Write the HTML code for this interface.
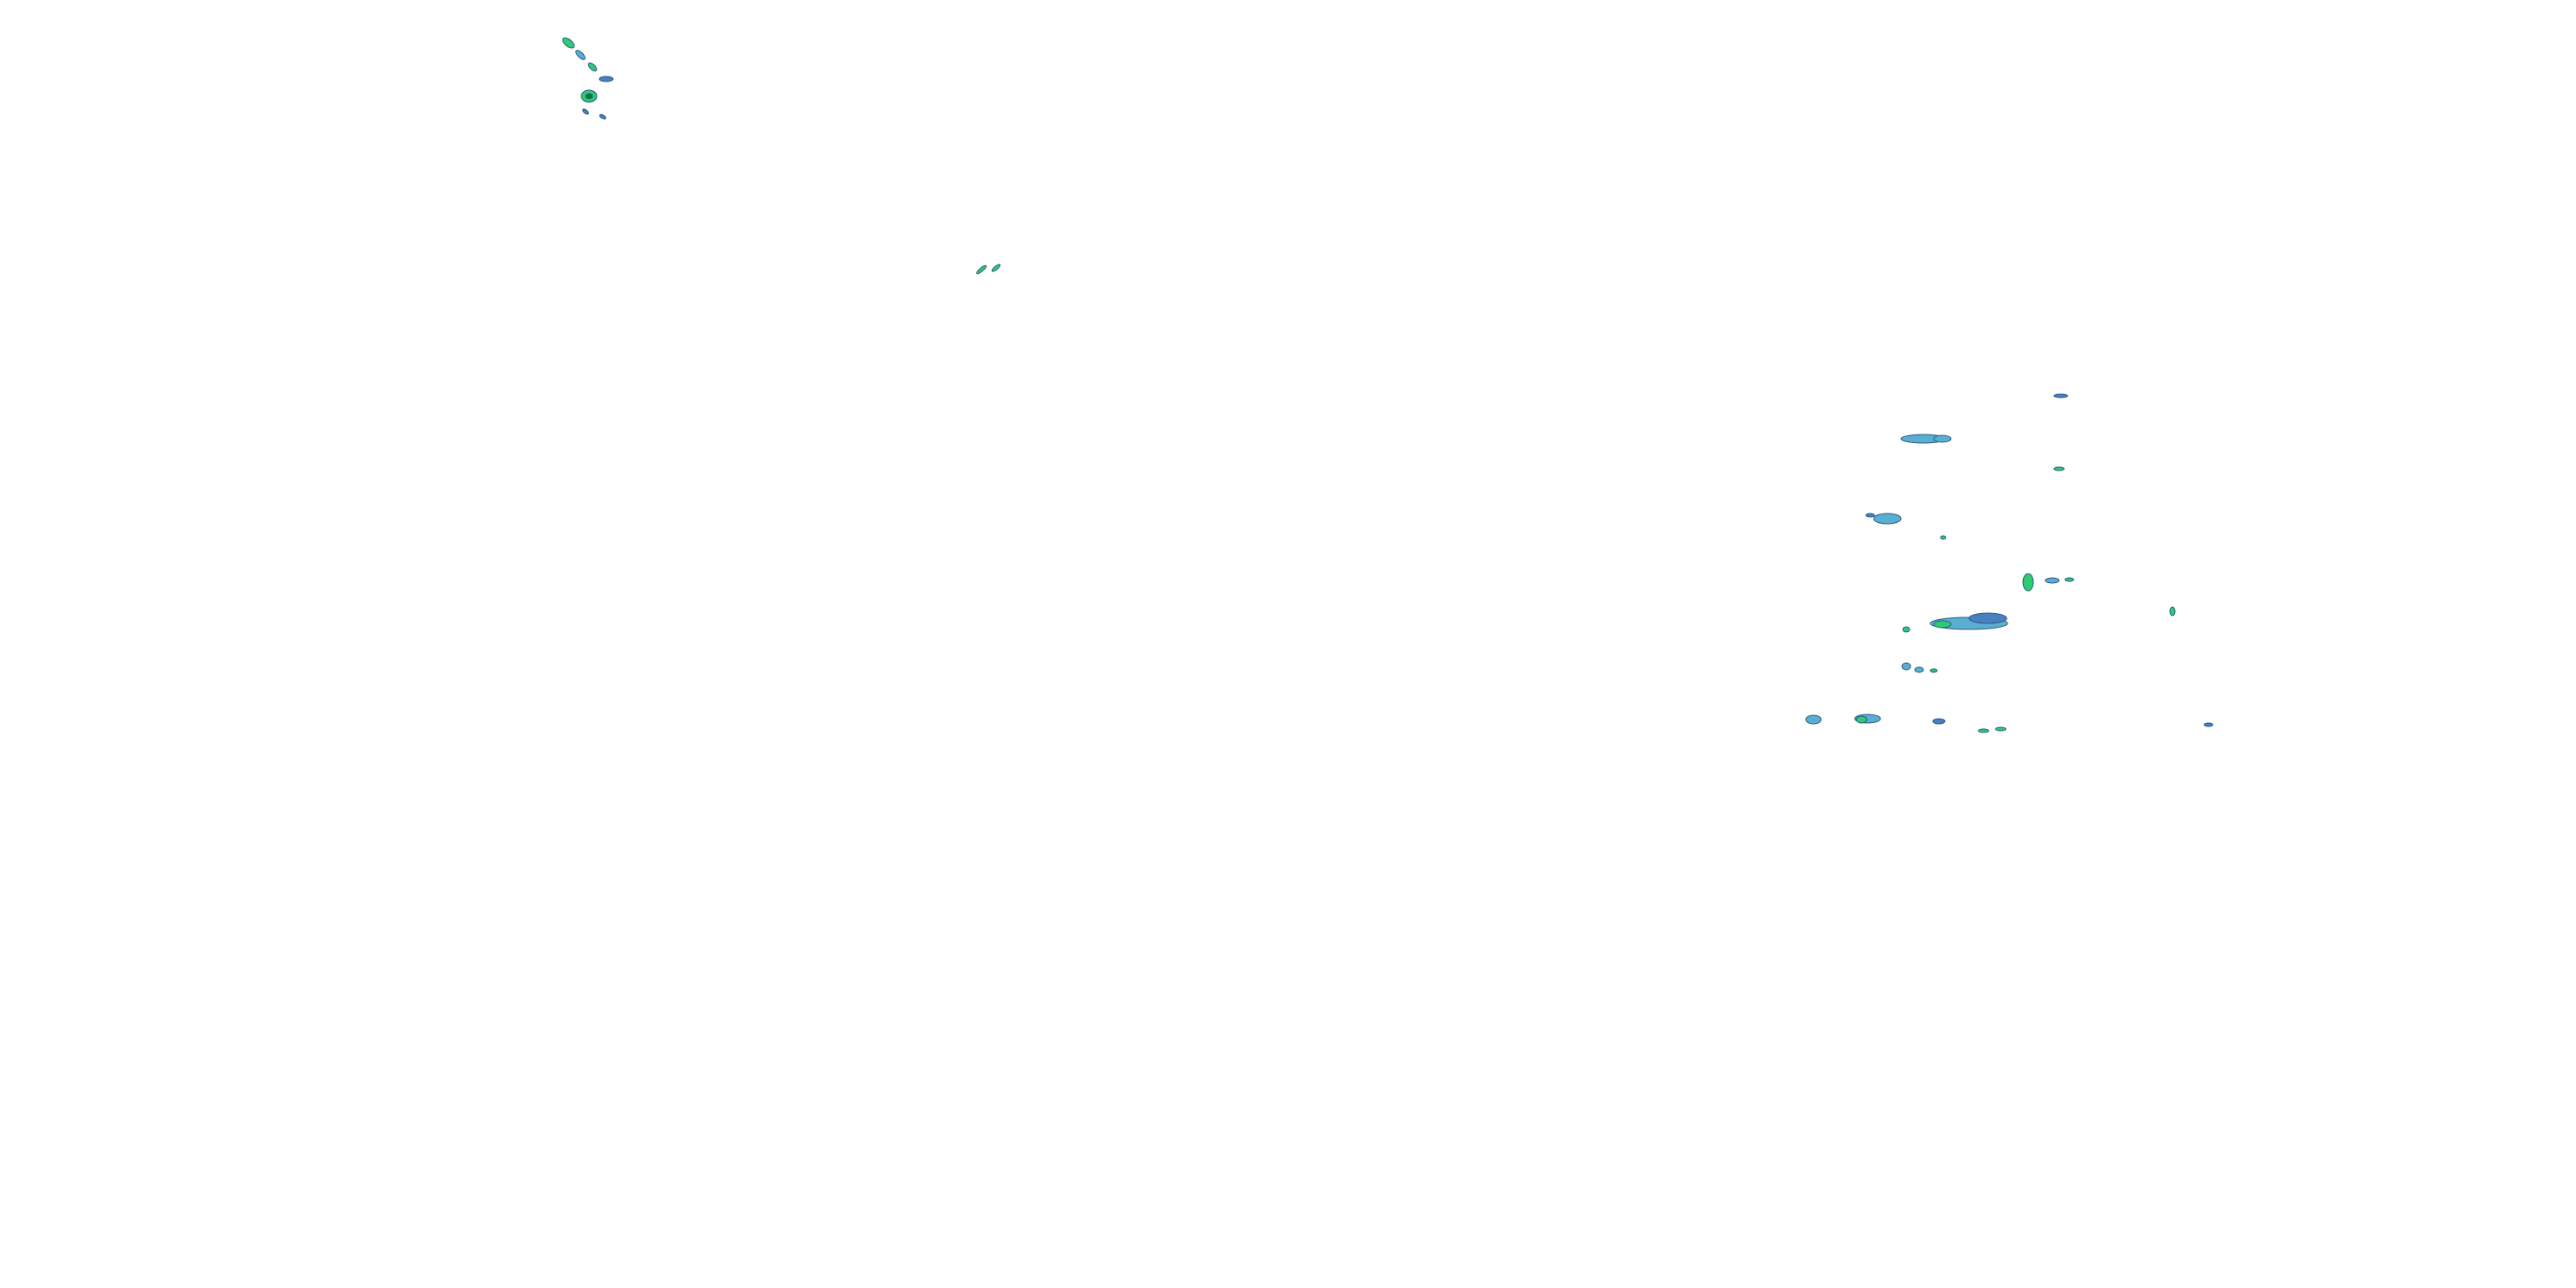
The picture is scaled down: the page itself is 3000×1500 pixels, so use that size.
<!DOCTYPE html>
<html><head><meta charset="utf-8"><style>
html,body{margin:0;padding:0;background:#fff;width:3000px;height:1500px;overflow:hidden}
svg{display:block}
</style></head><body>
<svg width="3000" height="1500" viewBox="0 0 3000 1500" xmlns="http://www.w3.org/2000/svg">
<g stroke="#2a5a8a" stroke-width="1">
<!-- top-left cluster -->
<ellipse cx="662" cy="50" rx="8" ry="4" fill="#2ecc71" transform="rotate(40 662 50)"/>
<ellipse cx="676" cy="64" rx="7" ry="3" fill="#5aaed0" transform="rotate(45 676 64)"/>
<ellipse cx="690" cy="78" rx="6" ry="3" fill="#2ecc71" transform="rotate(45 690 78)"/>
<ellipse cx="706" cy="92" rx="8" ry="3" fill="#4a7fc0"/>
<ellipse cx="686" cy="112" rx="9" ry="7" fill="#2ecc71"/>
<ellipse cx="686" cy="112" rx="4" ry="3" fill="#0a7a2a"/>
<ellipse cx="682" cy="130" rx="4" ry="2" fill="#4a7fc0" transform="rotate(40 682 130)"/>
<ellipse cx="702" cy="136" rx="4" ry="2" fill="#4a7fc0" transform="rotate(30 702 136)"/>
<!-- middle small -->
<ellipse cx="1143" cy="314" rx="7" ry="2" fill="#2ecc71" transform="rotate(-40 1143 314)"/>
<ellipse cx="1160" cy="312" rx="6" ry="2" fill="#2ecc71" transform="rotate(-40 1160 312)"/>
<!-- right cluster -->
<ellipse cx="2400" cy="461" rx="8" ry="2" fill="#4a7fc0"/>
<ellipse cx="2240" cy="511" rx="26" ry="5" fill="#5aaed0"/>
<ellipse cx="2262" cy="511" rx="10" ry="4" fill="#5aaed0"/>
<ellipse cx="2398" cy="546" rx="6" ry="2" fill="#2ecc71"/>
<ellipse cx="2198" cy="604" rx="16" ry="6" fill="#5aaed0"/>
<ellipse cx="2178" cy="600" rx="5" ry="2" fill="#4a7fc0"/>
<ellipse cx="2263" cy="626" rx="3" ry="2" fill="#2ecc71"/>
<ellipse cx="2362" cy="678" rx="6" ry="10" fill="#2ecc71"/>
<ellipse cx="2390" cy="676" rx="8" ry="3" fill="#5aaed0"/>
<ellipse cx="2410" cy="675" rx="5" ry="2" fill="#2ecc71"/>
<ellipse cx="2293" cy="726" rx="45" ry="7" fill="#5aaed0"/>
<ellipse cx="2315" cy="720" rx="22" ry="6" fill="#4a7fc0"/>
<ellipse cx="2262" cy="727" rx="10" ry="4" fill="#2ecc71"/>
<ellipse cx="2220" cy="733" rx="4" ry="3" fill="#2ecc71"/>
<ellipse cx="2530" cy="712" rx="3" ry="5" fill="#2ecc71"/>
<ellipse cx="2220" cy="776" rx="5" ry="4" fill="#5aaed0"/>
<ellipse cx="2235" cy="780" rx="5" ry="3" fill="#5aaed0"/>
<ellipse cx="2252" cy="781" rx="4" ry="2" fill="#2ecc71"/>
<ellipse cx="2112" cy="838" rx="9" ry="5" fill="#5aaed0"/>
<ellipse cx="2175" cy="837" rx="15" ry="5" fill="#5aaed0"/>
<ellipse cx="2168" cy="838" rx="6" ry="4" fill="#2ecc71"/>
<ellipse cx="2258" cy="840" rx="7" ry="3" fill="#4a7fc0"/>
<ellipse cx="2310" cy="851" rx="6" ry="2" fill="#2ecc71"/>
<ellipse cx="2330" cy="849" rx="6" ry="2" fill="#2ecc71"/>
<ellipse cx="2572" cy="844" rx="5" ry="2" fill="#4a7fc0"/>
</g>
</svg>
</body></html>
